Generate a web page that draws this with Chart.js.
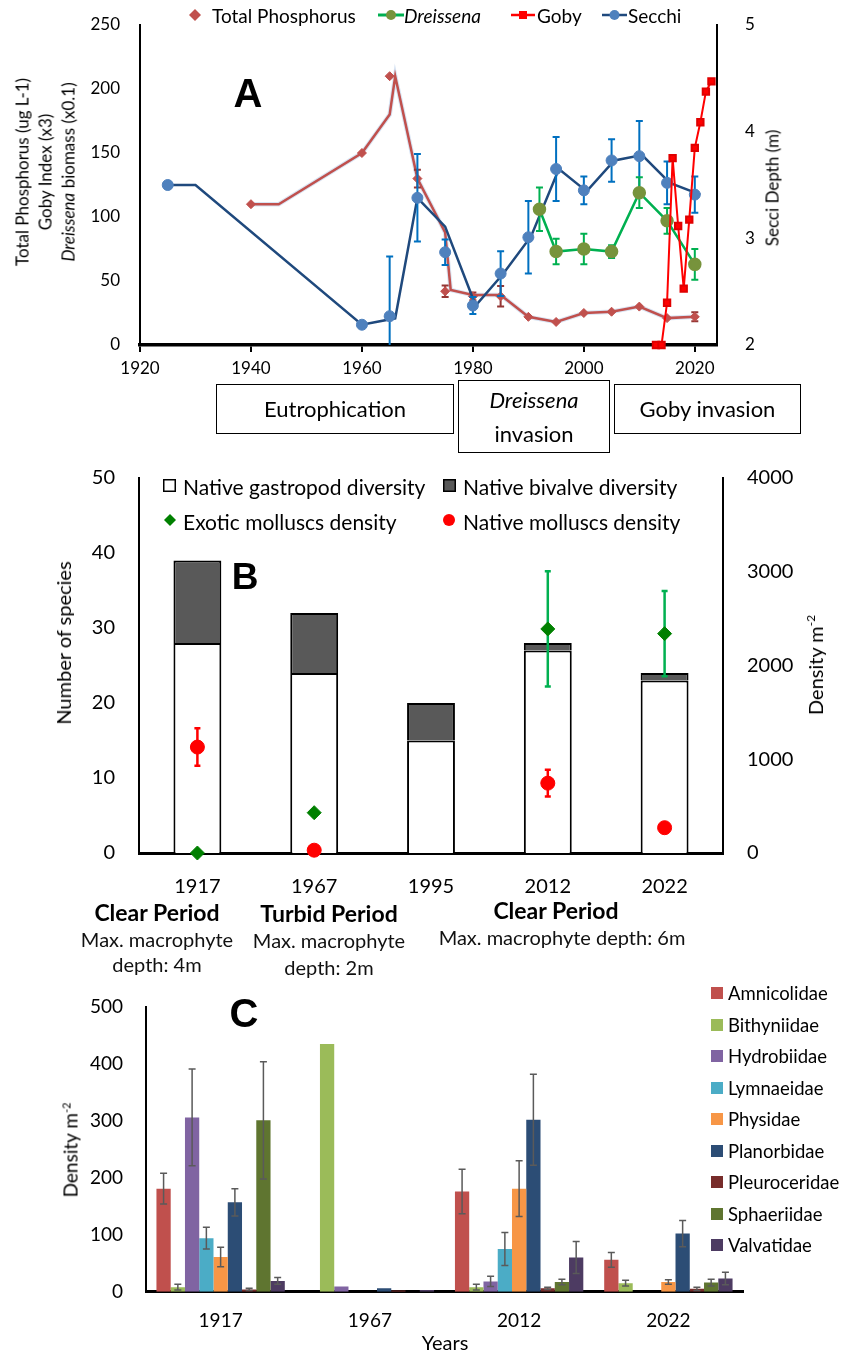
<!DOCTYPE html>
<html>
<head>
<meta charset="utf-8">
<script src="https://cdn.jsdelivr.net/npm/chart.js@4.4.0/dist/chart.umd.min.js"></script>
<style>
  body { margin: 0; background: #fff; }
  #page { position: relative; width: 853px; height: 1354px; font-family: Lato, sans-serif; color: #000; overflow: hidden; }
  canvas { position: absolute; left: 0; }
  .lt { position: absolute; white-space: nowrap; line-height: 1; transform: translateY(-50%); }
  .ct { position: absolute; white-space: nowrap; text-align: center; transform: translate(-50%, -50%); }
  .rot { position: absolute; white-space: nowrap; text-align: center; transform: translate(-50%, -50%) rotate(-90deg); }
  .box { position: absolute; border: 1.5px solid #000; box-sizing: border-box; display: flex; align-items: center; justify-content: center; text-align: center; font-size: 22px; line-height: 34px; }
  .letter { position: absolute; font-family: "Liberation Sans", Arial, sans-serif; font-weight: bold; transform: translate(-50%, -50%); line-height: 1; }
  svg { position: absolute; overflow: visible; }
</style>
</head>
<body>
<div id="page">
  <canvas id="chartA" width="853" height="385" style="top:0"></canvas>
  <canvas id="chartB" width="853" height="445" style="top:460px"></canvas>
  <canvas id="chartC" width="853" height="369" style="top:985px"></canvas>

  <!-- panel A legend -->
  <svg style="left:189px;top:9px" width="12" height="12"><polygon points="6,0 12,6 6,12 0,6" fill="#C0504D"/></svg>
  <div class="lt" style="left:212px;top:15px;font-size:19px">Total Phosphorus</div>
  <svg style="left:378px;top:8px" width="26" height="14"><line x1="0" y1="7" x2="26" y2="7" stroke="#00B050" stroke-width="3"/><circle cx="13" cy="7" r="5" fill="#77933C"/></svg>
  <div class="lt" style="left:404px;top:15px;font-size:19px;font-style:italic">Dreissena</div>
  <svg style="left:511px;top:8px" width="24" height="14"><line x1="0" y1="7" x2="24" y2="7" stroke="#FF0000" stroke-width="2.5"/><rect x="8" y="3" width="8" height="8" fill="#FF0000"/></svg>
  <div class="lt" style="left:537px;top:15px;font-size:19px">Goby</div>
  <svg style="left:602px;top:8px" width="25" height="14"><line x1="0" y1="7" x2="25" y2="7" stroke="#1F497D" stroke-width="2.5"/><circle cx="12.5" cy="7" r="5" fill="#4F81BD"/></svg>
  <div class="lt" style="left:628px;top:15px;font-size:19px">Secchi</div>

  <div class="letter" style="left:248px;top:93px;font-size:40px">A</div>
  <div class="rot" style="left:45px;top:172px;font-size:17px;line-height:23px">Total Phosphorus (ug L-1)<br>Goby Index (x3)<br><i>Dreissena</i> biomass (x0.1)</div>
  <div class="rot" style="left:772px;top:188px;font-size:17px">Secci Depth (m)</div>

  <div class="box" style="left:216px;top:384px;width:238px;height:50px">Eutrophication</div>
  <div class="box" style="left:458px;top:380px;width:152px;height:73px"><div><i>Dreissena</i><br>invasion</div></div>
  <div class="box" style="left:614px;top:384px;width:187px;height:50px">Goby invasion</div>

  <!-- panel B legend -->
  <svg style="left:163px;top:479px" width="13" height="13"><rect x="0.75" y="0.75" width="11.5" height="11.5" fill="#fff" stroke="#000" stroke-width="1.5"/></svg>
  <div class="lt" style="left:183px;top:486px;font-size:21px">Native gastropod diversity</div>
  <svg style="left:443px;top:479px" width="13" height="13"><rect x="0.75" y="0.75" width="11.5" height="11.5" fill="#595959" stroke="#000" stroke-width="1.5"/></svg>
  <div class="lt" style="left:463px;top:486px;font-size:21px">Native bivalve diversity</div>
  <svg style="left:164px;top:514px" width="12" height="12"><polygon points="6,0 12,6 6,12 0,6" fill="#008000"/></svg>
  <div class="lt" style="left:183px;top:521px;font-size:21px">Exotic molluscs density</div>
  <svg style="left:443px;top:514px" width="12" height="12"><circle cx="6" cy="6" r="6" fill="#FF0000"/></svg>
  <div class="lt" style="left:463px;top:521px;font-size:21px">Native molluscs density</div>

  <div class="letter" style="left:245px;top:576px;font-size:37px">B</div>
  <div class="rot" style="left:63px;top:643px;font-size:20px">Number of species</div>
  <div class="rot" style="left:815px;top:665px;font-size:20px">Density m<sup style="font-size:12px">-2</sup></div>

  <div class="ct" style="left:157px;top:912px;font-size:23px;font-weight:bold">Clear Period</div>
  <div class="ct" style="left:157px;top:952px;font-size:20px;line-height:25px;color:#111">Max. macrophyte<br>depth: 4m</div>
  <div class="ct" style="left:329px;top:913px;font-size:23px;font-weight:bold">Turbid Period</div>
  <div class="ct" style="left:329px;top:954px;font-size:20px;line-height:27px;color:#111">Max. macrophyte<br>depth: 2m</div>
  <div class="ct" style="left:556px;top:910px;font-size:23px;font-weight:bold">Clear Period</div>
  <div class="ct" style="left:562px;top:937px;font-size:20px;color:#111">Max. macrophyte depth: 6m</div>

  <!-- panel C -->
  <div class="letter" style="left:244px;top:1013px;font-size:40px">C</div>
  <div class="rot" style="left:70px;top:1150px;font-size:19px">Density m<sup style="font-size:11px">-2</sup></div>
  <div class="ct" style="left:445px;top:1342px;font-size:20px">Years</div>
  <div id="legendC"></div>
</div>

<script>
// ---------- Panel A: long-term record ----------
const yearTicksA = [1920, 1940, 1960, 1980, 2000, 2020];

const tpYears = [1940, 1960, 1965, 1970, 1975, 1980, 1985, 1990, 1995, 2000, 2005, 2010, 2015, 2020];
const tpValues = [110, 150, 210, 130, 42, 38, 38, 22, 18, 25, 26, 30, 21, 22];
const tpErrors = [0, 0, 0, 7, 4.5, 3, 8, 0, 0, 0, 0, 0, 0, 3.5];
const tpLineYears = [1940, 1945, 1960, 1965, 1966, 1970, 1975, 1976, 1980, 1985, 1990, 1995, 2000, 2005, 2010, 2015, 2020];
const tpLineValues = [110, 110, 150, 180, 210, 130, 88, 43, 39, 39, 22, 18, 25, 26, 30, 21, 22];

const secchiYears = [1925, 1960, 1965, 1970, 1975, 1980, 1985, 1990, 1995, 2000, 2005, 2010, 2015, 2020];
const secchiValues = [3.5, 2.19, 2.27, 3.38, 2.87, 2.37, 2.67, 3.01, 3.65, 3.45, 3.73, 3.77, 3.52, 3.41];
const secchiErrors = [0, 0, 0.56, 0.41, 0.12, 0.08, 0.21, 0.34, 0.3, 0.13, 0.2, 0.33, 0.2, 0.17];
const secchiLineYears = [1925, 1930, 1960, 1966, 1970, 1975, 1980.5, 1985.5, 1990.5, 1995.5, 2000.5, 2005.5, 2010.5, 2015.5, 2021];
const secchiLineValues = [3.5, 3.5, 2.19, 2.25, 3.38, 3.11, 2.37, 2.67, 3.02, 3.65, 3.44, 3.73, 3.78, 3.52, 3.41];

const dreissenaYears = [1992, 1995, 2000, 2005, 2010, 2015, 2020];
const dreissenaValues = [106, 73, 75, 73, 119, 97, 63];
const dreissenaErrors = [17, 10, 12, 5, 12, 10, 12];

const gobyYears = [2013, 2014, 2015, 2016, 2017, 2018, 2019, 2020, 2021, 2022, 2023];
const gobyValues = [0, 0, 33, 146, 93, 44, 98, 154, 174, 198, 206];

// ---------- Panel B: diversity and density ----------
const surveysB = ['1917', '1967', '1995', '2012', '2022'];
const gastropodDiversity = [28, 24, 15, 27, 23];
const bivalveDiversity = [11, 8, 5, 1, 1];
const exoticDensity = [0, 430, null, 2390, 2340];
const exoticErrors = [0, 0, 0, 615, 455];
const nativeDensity = [1130, 30, null, 745, 270];
const nativeErrors = [200, 0, 0, 142, 0];

// ---------- Panel C: family densities ----------
const surveysC = ['1917', '1967', '2012', '2022'];
const families = ['Amnicolidae', 'Bithyniidae', 'Hydrobiidae', 'Lymnaeidae', 'Physidae',
                  'Planorbidae', 'Pleuroceridae', 'Sphaeriidae', 'Valvatidae'];
const amnicolidae = [181, 0, 176, 56];     const amnicolidaeErr = [27, 0, 39, 13];
const bithyniidae = [8, 435, 8, 15];       const bithyniidaeErr = [5, 0, 5, 5];
const hydrobiidae = [306, 9, 18, 0];       const hydrobiidaeErr = [85, 0, 9, 0];
const lymnaeidae = [94, 0, 75, 0];         const lymnaeidaeErr = [19, 0, 29, 0];
const physidae = [61, 0, 181, 17];         const physidaeErr = [17, 0, 49, 4];
const planorbidae = [157, 6, 302, 102];    const planorbidaeErr = [24, 0, 80, 23];
const pleuroceridae = [4, 2, 6, 5];        const pleuroceridaeErr = [2, 0, 2, 3];
const sphaeriidae = [301, 0, 17, 16];      const sphaeriidaeErr = [103, 0, 5, 6];
const valvatidae = [19, 3, 60, 23];        const valvatidaeErr = [6, 0, 28, 11];

const familyValues = [amnicolidae, bithyniidae, hydrobiidae, lymnaeidae, physidae, planorbidae, pleuroceridae, sphaeriidae, valvatidae];
const familyErrors = [amnicolidaeErr, bithyniidaeErr, hydrobiidaeErr, lymnaeidaeErr, physidaeErr, planorbidaeErr, pleuroceridaeErr, sphaeriidaeErr, valvatidaeErr];
const familyColors = ['#C0504D', '#9BBB59', '#8064A2', '#4BACC6', '#F79646', '#2C4D75', '#772C2A', '#5F7530', '#4D3B62'];

Chart.defaults.font.family = 'Lato';
Chart.defaults.color = '#000';

// error bars drawn per dataset, under its own markers (under) or over bars
function drawErrors(chart, index, opts) {
  const ds = chart.data.datasets[index];
  if (!ds.errorBars) return;
  const meta = chart.getDatasetMeta(index);
  const scale = chart.scales[meta.yAxisID];
  const a = chart.chartArea;
  const ctx = chart.ctx;
  ctx.save();
  if (opts.clip) {
    ctx.beginPath();
    ctx.rect(a.left, a.top - 30, a.right - a.left, a.bottom - a.top + 30);
    ctx.clip();
  }
  ctx.strokeStyle = ds.errorColor;
  ctx.lineWidth = ds.errorWidth || 1.5;
  meta.data.forEach((el, j) => {
    const e = ds.errorBars[j];
    if (!e || el.skip) return;
    const v = scale.getValueForPixel(el.y);
    const y1 = scale.getPixelForValue(v + e);
    const y2 = scale.getPixelForValue(v - e);
    const c = ds.errorCap || 3;
    ctx.beginPath();
    ctx.moveTo(el.x, y1); ctx.lineTo(el.x, y2);
    ctx.moveTo(el.x - c, y1); ctx.lineTo(el.x + c, y1);
    ctx.moveTo(el.x - c, y2); ctx.lineTo(el.x + c, y2);
    ctx.stroke();
  });
  ctx.restore();
}
const errorBarPlugin = {
  id: 'errorBars',
  beforeDatasetDraw(chart, args, opts) { if (opts.under) drawErrors(chart, args.index, opts); },
  afterDatasetDraw(chart, args, opts) { if (!opts.under) drawErrors(chart, args.index, opts); }
};
Chart.register(errorBarPlugin);

const pts = (xs, ys) => xs.map((x, i) => ({ x: x, y: ys[i] }));
const fixWidth = w => s => { s.width = w; s.paddingTop = 0; s.paddingBottom = 0; };
const fixHeight = h => s => { s.height = h; s.paddingLeft = 0; s.paddingRight = 0; };
const plain = v => String(v);

// ---------- chart A ----------
new Chart(document.getElementById('chartA'), {
  type: 'line',
  data: {
    datasets: [
      { label: 'Goby', data: pts(gobyYears, gobyValues), yAxisID: 'y',
        borderColor: '#FF0000', borderWidth: 2, pointStyle: 'rect', pointRadius: 4.5,
        pointBackgroundColor: '#FF0000', pointBorderColor: '#E00000', clip: false },
      { label: 'Dreissena', data: pts(dreissenaYears, dreissenaValues), yAxisID: 'y',
        borderColor: '#00B050', borderWidth: 2.5, pointRadius: 5.5,
        pointBackgroundColor: '#77933C', pointBorderColor: '#77933C',
        errorBars: dreissenaErrors, errorColor: '#00B050', errorWidth: 2, errorCap: 3.5 },
      { label: 'Secchi', data: pts(secchiYears, secchiValues), yAxisID: 'y2', showLine: false,
        pointRadius: 5.5, backgroundColor: '#4F81BD', borderColor: '#4F81BD',
        errorBars: secchiErrors, errorColor: '#0070C0', errorWidth: 2, errorCap: 3.5 },
      { label: 'Secchi line', data: pts(secchiLineYears, secchiLineValues), yAxisID: 'y2',
        borderColor: '#1F497D', borderWidth: 2.5, pointRadius: 0 },
      { label: 'Total Phosphorus', data: pts(tpYears, tpValues), yAxisID: 'y', showLine: false,
        pointStyle: 'rectRot', pointRadius: 4.5, backgroundColor: '#C0504D', borderColor: '#C0504D',
        errorBars: tpErrors, errorColor: '#953735', errorWidth: 2, errorCap: 3.5 },
      { label: 'TP line', data: pts(tpLineYears, tpLineValues), yAxisID: 'y',
        borderColor: '#C0504D', borderWidth: 2.5, pointRadius: 0 },
      { label: 'TP shadow', data: pts(tpLineYears, tpLineValues), yAxisID: 'y',
        borderColor: 'rgba(190,210,235,0.6)', borderWidth: 4.5, pointRadius: 0 }
    ]
  },
  options: {
    responsive: false, animation: false,
    layout: { padding: { top: 25 } },
    plugins: { legend: { display: false }, tooltip: { enabled: false }, errorBars: { under: true, clip: true } },
    scales: {
      x: {
        type: 'linear', min: 1920, max: 2024,
        afterBuildTicks: s => { s.ticks = yearTicksA.map(v => ({ value: v })); },
        afterFit: fixHeight(40),
        grid: { display: true, drawOnChartArea: false, drawTicks: true, tickLength: 7, color: '#000', lineWidth: 2 },
        border: { color: '#000', width: 3.5 },
        ticks: { font: { size: 17 }, padding: 6, maxRotation: 0, callback: plain }
      },
      y: {
        position: 'left', min: 0, max: 250,
        afterFit: fixWidth(140),
        grid: { display: false, drawTicks: false },
        border: { color: '#000', width: 2 },
        ticks: { stepSize: 50, font: { size: 17 }, padding: 20, callback: plain }
      },
      y2: {
        position: 'right', min: 2, max: 5,
        afterFit: fixWidth(136),
        grid: { display: false, drawTicks: false },
        border: { color: '#000', width: 2 },
        ticks: { stepSize: 1, font: { size: 17 }, padding: 28, callback: plain }
      }
    }
  }
});

// ---------- chart B ----------
new Chart(document.getElementById('chartB'), {
  type: 'bar',
  data: {
    labels: surveysB,
    datasets: [
      { type: 'line', label: 'Exotic molluscs density', data: exoticDensity, yAxisID: 'y2', showLine: false,
        pointStyle: 'rectRot', pointRadius: 7, backgroundColor: '#008000', borderColor: '#008000', clip: false,
        errorBars: exoticErrors, errorColor: '#00B050', errorWidth: 2.5, errorCap: 3 },
      { type: 'line', label: 'Native molluscs density', data: nativeDensity, yAxisID: 'y2', showLine: false,
        pointStyle: 'circle', pointRadius: 7, backgroundColor: '#FF0000', borderColor: '#FF0000', clip: false,
        errorBars: nativeErrors, errorColor: '#FF0000', errorWidth: 2.5, errorCap: 3 },
      { label: 'Native gastropod diversity', data: gastropodDiversity, yAxisID: 'y',
        backgroundColor: '#FFFFFF', borderColor: '#000', borderWidth: 2 },
      { label: 'Native bivalve diversity', data: bivalveDiversity, yAxisID: 'y',
        backgroundColor: '#595959', borderColor: '#000', borderWidth: 2 }
    ]
  },
  options: {
    responsive: false, animation: false,
    layout: { padding: { top: 18 } },
    datasets: { bar: { categoryPercentage: 1, barPercentage: 0.41 } },
    plugins: { legend: { display: false }, tooltip: { enabled: false }, errorBars: { under: true, clip: false } },
    scales: {
      x: {
        stacked: true, afterFit: fixHeight(52),
        grid: { display: false, drawTicks: false },
        border: { color: '#000', width: 3 },
        ticks: { font: { size: 20 }, padding: 22 }
      },
      y: {
        stacked: true, min: 0, max: 50, afterFit: fixWidth(139),
        grid: { display: false, drawTicks: false },
        border: { color: '#000', width: 2 },
        ticks: { stepSize: 10, font: { size: 20 }, padding: 24, callback: plain }
      },
      y2: {
        position: 'right', min: 0, max: 4000, afterFit: fixWidth(130),
        grid: { display: false, drawTicks: false },
        border: { color: '#000', width: 2 },
        ticks: { stepSize: 1000, font: { size: 20 }, padding: 24, callback: plain }
      }
    }
  }
});

// ---------- chart C ----------
new Chart(document.getElementById('chartC'), {
  type: 'bar',
  data: {
    labels: surveysC,
    datasets: families.map((f, i) => ({
      label: f, data: familyValues[i], backgroundColor: familyColors[i],
      errorBars: familyErrors[i], errorColor: '#5A5A5A', errorWidth: 1.5, errorCap: 3.5
    }))
  },
  options: {
    responsive: false, animation: false,
    layout: { padding: { top: 22, right: 110 } },
    datasets: { bar: { categoryPercentage: 0.86, barPercentage: 1 } },
    plugins: { legend: { display: false }, tooltip: { enabled: false }, errorBars: { under: false, clip: false } },
    scales: {
      x: {
        afterFit: fixHeight(62.3),
        grid: { display: false, drawTicks: false },
        border: { color: '#000', width: 3 },
        ticks: { font: { size: 19 }, padding: 18 }
      },
      y: {
        min: 0, max: 500, afterFit: fixWidth(146),
        grid: { display: false, drawTicks: false },
        border: { color: '#000', width: 2 },
        ticks: { stepSize: 100, font: { size: 19 }, padding: 23, callback: plain }
      }
    }
  }
});

// legend C (HTML, beside the plot)
const legendC = document.getElementById('legendC');
families.forEach((f, i) => {
  const y = 993 + i * 31.5;
  legendC.insertAdjacentHTML('beforeend',
    `<svg style="left:711px;top:${y - 6}px" width="12" height="12"><rect width="12" height="12" fill="${familyColors[i]}"/></svg>` +
    `<div class="lt" style="left:728px;top:${y}px;font-size:18.5px">${f}</div>`);
});
</script>
</body>
</html>
